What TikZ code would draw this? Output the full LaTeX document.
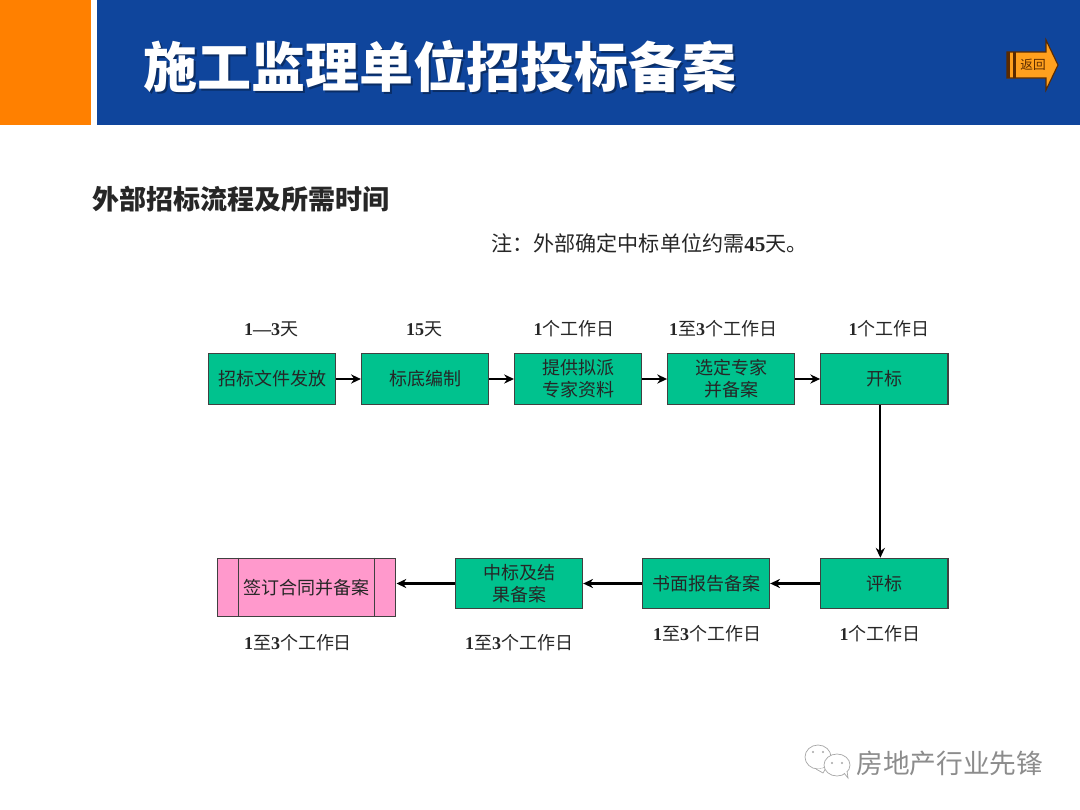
\documentclass[tikz,border=0pt]{standalone}
\usepackage{fontspec}
\setmainfont{Noto Sans CJK SC}
\newfontfamily\numfont{Liberation Serif}
\usetikzlibrary{
  arrows.meta,
  positioning,
  calc
}
\definecolor{headerblue}{HTML}{0F459C}
\definecolor{headerorange}{HTML}{FF8000}
\definecolor{stepgreen}{HTML}{00C28E}
\definecolor{signpink}{HTML}{FF99CC}
\definecolor{backbrown}{HTML}{5A2A00}
\definecolor{backorange}{HTML}{FFA01E}
\newcommand{\dayNum}[1]{{\numfont\bfseries #1}}

\begin{document}
\begin{tikzpicture}[
    x=0.025cm, y=-0.025cm,
    node distance=0.618cm,
    every node/.style={align=center, text=black!85},
    stepbox/.style={
      rectangle, draw=black!75, thick,
      minimum width=3.18cm, minimum height=1.26cm,
      inner sep=0pt, fill=stepgreen,
      font=\fontsize{12.8}{15.6}\selectfont
    },
    signbox/.style={
      rectangle, draw=black!75, thick,
      minimum width=4.47cm, minimum height=1.47cm,
      inner sep=0pt, fill=signpink,
      font=\fontsize{12.8}{15.6}\selectfont
    },
    timelabel/.style={font=\fontsize{12.8}{15.6}\selectfont, inner sep=0pt},
    arrow/.style={-{Stealth[length=7pt,width=6.5pt]}, line width=1.5pt, black},
    bubble/.style={draw=black!35, fill=white, line width=0.5pt},
  ]
  \useasboundingbox (0,0) rectangle (1080,810);

  % --- Header ---
  \fill[headerorange] (0,0) rectangle (91,125);
  \fill[headerblue] (97,0) rectangle (1080,125);
  \node[font=\fontsize{38.4}{40}\selectfont\bfseries, text=headerblue!65!black, inner sep=0pt] (titleshadow) at (442,69)
    {施工监理单位招投标备案};
  \node[font=\fontsize{38.4}{40}\selectfont\bfseries, text=white, inner sep=0pt] (title) at (440,67)
    {施工监理单位招投标备案};

  % --- Back button ---
  \draw[draw=backbrown, line width=0.8pt, fill=backorange]
    (1007,52) -- (1046,52) -- (1046,40) -- (1058,65) -- (1046,90) -- (1046,78) -- (1007,78) -- cycle;
  \fill[backbrown] (1007,52) rectangle (1010,78);
  \fill[backbrown] (1013,52) rectangle (1016,78);
  \node[font=\fontsize{9}{10}\selectfont, text=backbrown, inner sep=0pt] (backtext) at (1033,65) {返回};

  % --- Headings ---
  \node[font=\fontsize{19.2}{22}\selectfont\bfseries, anchor=west, inner sep=0pt] (heading) at (92,199)
    {外部招标流程及所需时间};
  \node[font=\fontsize{15}{16}\selectfont, anchor=west, inner sep=0pt] (note) at (491,243)
    {注：外部确定中标单位约需\dayNum{45}天。};

  % --- Top row ---
  \node[stepbox] (issue) at (272,379) {招标文件发放};
  \node[stepbox, right=of issue] (ceiling) {标底编制};
  \node[stepbox, right=of ceiling] (experts) {提供拟派\\专家资料};
  \node[stepbox, right=of experts] (select) {选定专家\\并备案};
  \node[stepbox, right=of select] (opening) {开标};

  % --- Bottom row ---
  \coordinate (lowrow) at (0,583.5);
  \node[stepbox] (review) at (opening |- lowrow) {评标};
  \node[stepbox] (report) at (706,583.5) {书面报告备案};
  \node[stepbox] (award) at (519,583.5) {中标及结\\果备案};
  \node[signbox] (sign) at (306.5,587.5) {签订合同并备案};
  \draw[black!75, thick] ($(sign.north west)+(22,0)$) -- ($(sign.south west)+(22,0)$);
  \draw[black!75, thick] ($(sign.north east)+(-22,0)$) -- ($(sign.south east)+(-22,0)$);

  % --- Time labels ---
  \node[timelabel] (t1) at (271,329) {\dayNum{1—3}天};
  \node[timelabel] (t2) at (424,329) {\dayNum{15}天};
  \node[timelabel] (t3) at (574,329) {\dayNum{1}个工作日};
  \node[timelabel] (t4) at (723,329) {\dayNum{1}至\dayNum{3}个工作日};
  \node[timelabel] (t5) at (889,329) {\dayNum{1}个工作日};
  \node[timelabel] (t6) at (880,634) {\dayNum{1}个工作日};
  \node[timelabel] (t7) at (707,634) {\dayNum{1}至\dayNum{3}个工作日};
  \node[timelabel] (t8) at (519,643) {\dayNum{1}至\dayNum{3}个工作日};
  \node[timelabel] (t9) at (298,643) {\dayNum{1}至\dayNum{3}个工作日};

  % --- Arrows ---
  \draw[arrow] (issue) -- (ceiling);
  \draw[arrow] (ceiling) -- (experts);
  \draw[arrow] (experts) -- (select);
  \draw[arrow] (select) -- (opening);
  \draw[arrow] ([xshift=-0.1cm]opening.south) -- ([xshift=-0.1cm]review.north);
  \draw[arrow] (review) -- (report);
  \draw[arrow] (report) -- (award);
  \draw[arrow] (award.west) -- (award.west -| sign.east);

  % --- Watermark ---
  \draw[bubble] (818,757) ellipse (13 and 12);
  \draw[bubble] (826,768) -- (823,773) -- (816,769);
  \draw[bubble] (837,765) ellipse (13 and 11);
  \draw[bubble] (844,773) -- (848,778) -- (847,771);
  \fill[black!35] (813,752) circle (1.2) (823,752) circle (1.2) (832,763) circle (1.2) (842,763) circle (1.2);
  \node[font=\fontsize{19}{22}\selectfont, text=black!45, anchor=west, inner sep=0pt] (brand) at (856,763)
    {房地产行业先锋};
\end{tikzpicture}
\end{document}
